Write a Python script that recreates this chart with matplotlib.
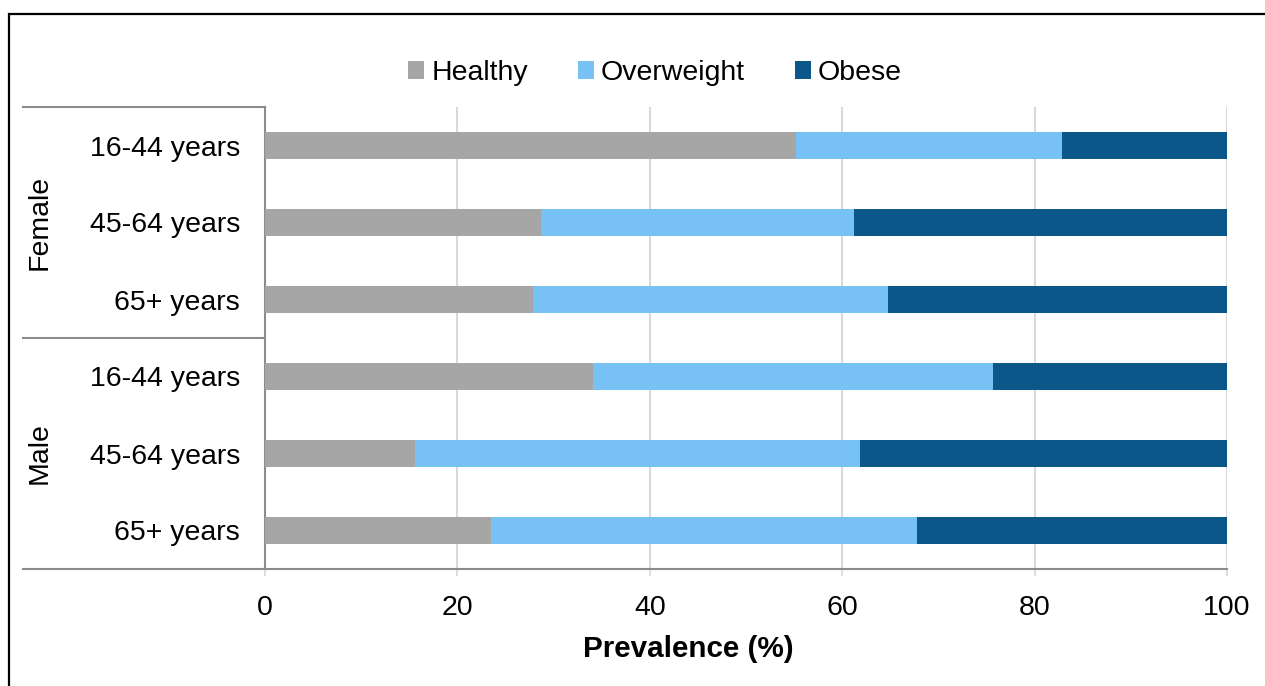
import matplotlib.pyplot as plt
from matplotlib.patches import Rectangle

# =========================
# DATA
# =========================

groups = ["Female", "Male"]
age_bands = ["16-44 years", "45-64 years", "65+ years"]

healthy = [55.2, 28.7, 27.9, 34.1, 15.6, 23.5]
overweight = [27.6, 32.5, 36.9, 41.6, 46.2, 44.3]
obese = [17.2, 38.8, 35.2, 24.3, 38.2, 32.2]

series = ["Healthy", "Overweight", "Obese"]
colors = ["#a6a6a6", "#77c1f5", "#0b5789"]

plt.rcParams["font.family"] = ["Liberation Sans", "DejaVu Sans"]
plt.rcParams["font.size"] = 20.5

# =========================
# FIGURE
# =========================

fig = plt.figure(figsize=(12.65, 6.86), dpi=100)
ax = fig.add_axes([265 / 1265, 1 - 569 / 686, 962 / 1265, 462 / 686])

labels = age_bands * len(groups)
y = list(range(len(labels)))

left = [0] * len(labels)
for name, values, color in zip(series, [healthy, overweight, obese], colors):
    ax.barh(y, values, left=left, height=0.35, color=color, label=name,
            edgecolor="none", zorder=3)
    left = [a + b for a, b in zip(left, values)]

ax.set_xlim(0, 100)
ax.set_ylim(len(labels) - 0.5, -0.5)
ax.set_xticks(range(0, 101, 20))
ax.set_yticks(y)
ax.set_yticklabels(labels)

ax.grid(axis="x", color="#d9d9d9", linewidth=1.5, zorder=0)
ax.tick_params(axis="y", length=0, pad=18)
ax.tick_params(axis="x", length=5, width=1.2, color="#d9d9d9", pad=14)

for side in ["top", "right"]:
    ax.spines[side].set_visible(False)
ax.spines["left"].set_color("#8c8c8c")
ax.spines["left"].set_linewidth(1.5)
ax.spines["bottom"].set_visible(False)

# category box lines on the left, plus the bottom axis line
line_kw = dict(color="#8c8c8c", linewidth=1.5, transform=ax.transAxes,
               clip_on=False, zorder=4)
x0 = (23 - 265) / 962
ax.plot([x0, 0], [1, 1], **line_kw)
ax.plot([x0, 0], [0.5, 0.5], **line_kw)
ax.plot([x0, 1], [0, 0], **line_kw)

# group labels
for i, g in enumerate(groups):
    ax.text((40 - 265) / 962, 0.75 - 0.5 * i, g, rotation=90,
            ha="center", va="center", transform=ax.transAxes)

ax.set_xlabel("Prevalence (%)", fontweight="bold", fontsize=21.3)
ax.xaxis.set_label_coords((688.5 - 265) / 962, -0.142)

fig.legend(loc="center", bbox_to_anchor=(655 / 1265, 1 - 73 / 686),
           ncol=3, frameon=False, handlelength=0.56, handleheight=0.56,
           handletextpad=0.25, columnspacing=1.75, borderpad=0)

# outer frame
fig.patches.append(Rectangle((9 / 1265, -0.1), 1.2, 0.1 + 1 - 14 / 686,
                             transform=fig.transFigure, fill=False,
                             edgecolor="black", linewidth=1.6))

fig.savefig("out.png", dpi=100)
